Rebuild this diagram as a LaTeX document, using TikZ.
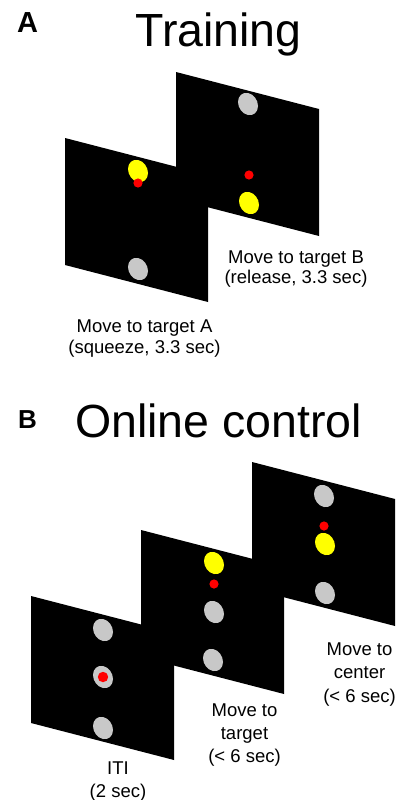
\documentclass[tikz,border=0pt]{standalone}
\usepackage{fontspec}
\setmainfont{Liberation Sans}
\definecolor{dotgray}{RGB}{200,200,200}
\definecolor{dotyellow}{RGB}{255,255,0}
\definecolor{dotred}{RGB}{255,0,0}
\newcommand\screen[2]{\fill[black] (#1,#2) -- ++(143,37) -- ++(0,127) -- ++(-143,-37) -- cycle;}
\newcommand\blob[3]{\begin{scope}[shift={(#1,#2)},yslant=-0.2]\fill[#3] (0,0) ellipse [x radius=10pt, y radius=11pt];\end{scope}}
\newcommand\cursor[3][4.6pt]{\fill[dotred] (#2,#3) circle [radius=#1];}
\begin{document}
\begin{tikzpicture}[x=1pt,y=-1pt,
  lbl/.style={inner sep=0pt, anchor=base, font=\fontsize{18.5}{21}\selectfont},
  ttl/.style={inner sep=0pt, anchor=base, font=\fontsize{46.5}{50}\selectfont},
  tag/.style={inner sep=0pt, anchor=base, font=\bfseries\fontsize{29}{32}\selectfont}]
\useasboundingbox (0,0) rectangle (402,800);
\fill[white] (0,0) rectangle (402,800);
% ---------- A ----------
\node[tag] (tagA) at (27.5,33) {A};
\node[ttl] (ttlA) at (218.5,47) {Training};
\screen{176}{72}
\screen{65}{138}
\blob{138}{171}{dotyellow}
\cursor{138}{183}
\blob{138}{269}{dotgray}
\blob{248}{104}{dotgray}
\cursor{249}{175}
\blob{249}{203}{dotyellow}
\node[lbl] (lB1) at (296,263) {Move to target B};
\node[lbl] (lB2) at (296,283) {(release, 3.3 sec)};
\node[lbl] (lA1) at (144.5,332) {Move to target A};
\node[lbl] (lA2) at (144.5,353) {(squeeze, 3.3 sec)};
% ---------- B ----------
\node[tag, font=\bfseries\fontsize{26}{30}\selectfont] (tagB) at (27.5,428) {B};
\node[ttl] (ttlB) at (218.5,437) {Online control};
\screen{252}{462}
\screen{141}{530}
\screen{31}{596}
% B1
\blob{103}{630}{dotgray}
\blob{103}{677}{dotgray}
\cursor[5.2pt]{103}{677}
\blob{103}{728}{dotgray}
% B2
\blob{214}{563}{dotyellow}
\cursor{214}{584}
\blob{214}{612}{dotgray}
\blob{213}{660}{dotgray}
% B3
\blob{324}{496}{dotgray}
\cursor{324}{526}
\blob{325}{544}{dotyellow}
\blob{325}{593}{dotgray}
\node[lbl] (c1) at (359.5,655) {Move to};
\node[lbl] (c2) at (359.5,678.5) {center};
\node[lbl] (c3) at (359.5,702) {(< 6 sec)};
\node[lbl] (t1) at (244.5,716) {Move to};
\node[lbl] (t2) at (244.5,739) {target};
\node[lbl] (t3) at (244.5,762) {(< 6 sec)};
\node[lbl] (i1) at (118,774) {ITI};
\node[lbl] (i2) at (118,797) {(2 sec)};
\end{tikzpicture}
\end{document}
